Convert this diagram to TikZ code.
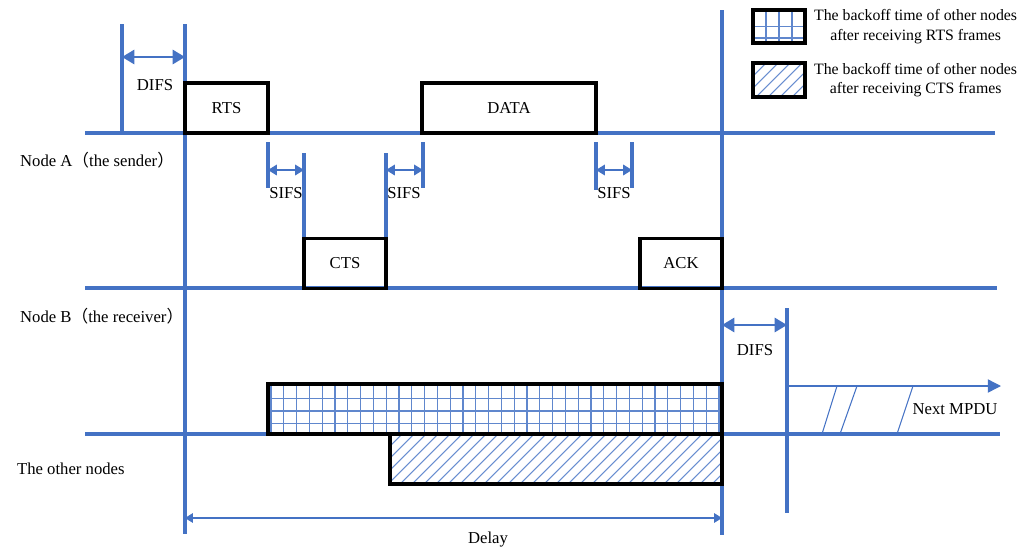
\documentclass[tikz,border=0pt]{standalone}
\usepackage{fontspec}
\setmainfont{Liberation Serif}
\newfontfamily\cjk{Noto Sans CJK SC}
\usepackage{xcolor}
\usetikzlibrary{arrows.meta,positioning}
\definecolor{lineblue}{HTML}{4472C4}
\newcommand{\lp}{{\cjk （}}
\newcommand{\rp}{{\cjk ）}}

\begin{document}
\begin{tikzpicture}[
  x=0.02cm, y=-0.02cm,
  timeline/.style = {lineblue, line width=2pt},
  marker/.style   = {lineblue, line width=1.9pt},
  frame/.style    = {draw=black, line width=2pt},
  txt/.style      = {font=\fontsize{9.5}{11}\selectfont, inner sep=1pt},
  legtxt/.style   = {font=\fontsize{9}{11}\selectfont, align=center, inner sep=1pt},
  difs/.style     = {{Triangle[length=7pt,width=8pt]}-{Triangle[length=7pt,width=8pt]},
                     lineblue, line width=1.5pt},
  sifs/.style     = {{Triangle[length=5pt,width=6pt]}-{Triangle[length=5pt,width=6pt]},
                     lineblue, line width=0.8pt},
  delay/.style    = {{Triangle[length=4.5pt,width=5.5pt]}-{Triangle[length=4.5pt,width=5.5pt]},
                     lineblue, line width=0.6pt},
  gridline/.style = {lineblue!85, line width=0.7pt},
  hatch/.style    = {lineblue!80, line width=0.6pt}
]
\useasboundingbox (0,0) rectangle (1035,548);

%% --- Time lines of the three stations --------------------------
\draw[timeline] (85,133) -- (995,133);
\draw[timeline] (85,288) -- (997,288);
\draw[timeline] (85,434) -- (1000,434);

\node[txt, anchor=west] (nodeA) at (18,160) {Node A\lp the sender\rp};
\node[txt, anchor=west] (nodeB) at (18,316) {Node B\lp the receiver\rp};
\node[txt, anchor=west] (others) at (15,469) {The other nodes};

%% --- Long markers ----------------------------------------------
\draw[marker] (185,24) -- (185,534);
\draw[marker] (122,24) -- (122,133);
\draw[marker] (722,10) -- (722,535);
\draw[marker] (787,308) -- (787,513);

%% --- SIFS gaps -------------------------------------------------
\draw[marker] (268,142) -- (268,188);
\draw[marker] (304,153) -- (304,245);
\draw[sifs] (268,170) -- (304,170);
\node[txt] (sifs1) at (286,193) {SIFS};

\draw[marker] (386,153) -- (386,245);
\draw[marker] (423,142) -- (423,188);
\draw[sifs] (386,170) -- (423,170);
\node[txt] (sifs2) at (404,193) {SIFS};

\draw[marker] (596,142) -- (596,190);
\draw[marker] (632,142) -- (632,188);
\draw[sifs] (596,170) -- (632,170);
\node[txt] (sifs3) at (614,193) {SIFS};

%% --- Frames on node A and node B -------------------------------
\node[frame, minimum width=1.66cm, minimum height=1cm] (rts) at (226.5,108) {};
\node[txt] at (rts) {RTS};
\node[frame, minimum width=3.48cm, minimum height=1cm] (data) at (509,108) {};
\node[txt] at (data) {DATA};
\node[frame, minimum width=1.64cm, minimum height=1cm] (cts) at (345,263.5) {};
\node[txt] at (cts) {CTS};
\node[frame, minimum width=1.64cm, minimum height=1cm] (ack) at (681,263.5) {};
\node[txt] at (ack) {ACK};

%% --- DIFS before RTS -------------------------------------------
\draw[difs] (122,57) -- (185,57);
\node[txt] (difsA) at (155,85) {DIFS};

%% --- DIFS after ACK, next MPDU ---------------------------------
\draw[difs] (722,325) -- (787,325);
\node[txt] (difsB) at (755,350) {DIFS};

\draw[lineblue, line width=0.8pt, -{Triangle[length=7.5pt,width=7.5pt]}]
  (787,386) -- (1001,386);
\draw[lineblue, line width=0.6pt] (822,434) -- (837,386);
\draw[lineblue, line width=0.6pt] (840,434) -- (857,386);
\draw[lineblue, line width=0.6pt] (897,434) -- (913,386);
\node[txt] (next) at (955,409) {Next MPDU};

%% --- Backoff of the other nodes --------------------------------
\begin{scope}
  \clip (268,384) rectangle (722,434);
  \foreach \x in {271,283.8,...,722} \draw[gridline] (\x,384) -- (\x,434);
  \foreach \y in {385.5,398.2,...,434} \draw[gridline] (268,\y) -- (722,\y);
\end{scope}
\node[frame, minimum width=9.08cm, minimum height=1cm] (navrts) at (495,409) {};

\begin{scope}
  \clip (390,434) rectangle (722,484);
  \foreach \x in {340,352,...,722} \draw[hatch] (\x,484) -- (\x+50,434);
\end{scope}
\node[frame, minimum width=6.64cm, minimum height=1cm] (navcts) at (556,459) {};

%% --- Delay -----------------------------------------------------
\draw[delay] (185,518) -- (722,518);
\node[txt] (delay) at (488,540) {Delay};

%% --- Legend ----------------------------------------------------
\begin{scope}
  \clip (753,10) rectangle (805,43);
  \foreach \x in {766,779,792} \draw[gridline] (\x,10) -- (\x,43);
  \draw[gridline] (753,26.5) -- (805,26.5);
  \draw[gridline] (753,38) -- (805,38);
\end{scope}
\node[frame, minimum width=1.04cm, minimum height=0.66cm] (keyrts) at (779,26.5) {};
\node[legtxt, anchor=west] (legrts) at (812,26.5)
  {The backoff time of other nodes\\after receiving RTS frames};

\begin{scope}
  \clip (753,63) rectangle (805,97);
  \foreach \x in {720,732,...,805} \draw[hatch] (\x,97) -- (\x+34,63);
\end{scope}
\node[frame, minimum width=1.04cm, minimum height=0.68cm] (keycts) at (779,80) {};
\node[legtxt, anchor=west] (legcts) at (812,80)
  {The backoff time of other nodes\\after receiving CTS frames};

\end{tikzpicture}
\end{document}
